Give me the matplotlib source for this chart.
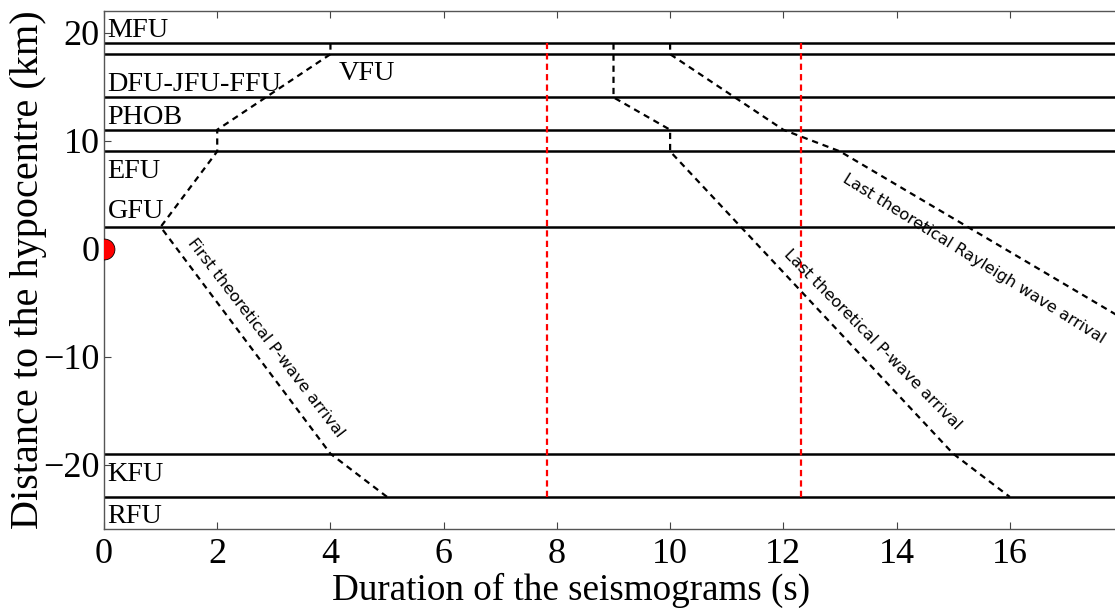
import matplotlib
matplotlib.use("Agg")
import matplotlib.pyplot as plt

# Layer boundaries (km relative to the hypocentre)
boundaries = [19, 18, 14, 11, 9, 2, -19, -23]

# Layer names and where their labels sit (x in s, baseline y in km)
layer_names = ["MFU", "DFU-JFU-FFU", "VFU", "PHOB", "EFU", "GFU", "KFU", "RFU"]
layer_x = [0.06, 0.06, 4.15, 0.06, 0.06, 0.06, 0.06, 0.06]
layer_y = [19.55, 14.6, 15.6, 11.55, 6.5, 2.8, -21.5, -25.4]

# Theoretical arrival curves: time (s) vs distance (km)
first_p_t = [4, 4, 2, 2, 1, 4, 5]
first_p_d = [19, 18, 11, 9, 2, -19, -23]
last_p_t = [9, 9, 10, 10, 15, 16]
last_p_d = [19, 14, 11, 9, -19, -23]
rayleigh_t = [10, 10, 12, 13, 18]
rayleigh_d = [19, 18, 11, 9, -6.5]

# Seismogram time markers (s)
red_times = [7.83, 12.31]

curve_labels = ["First theoretical P-wave arrival",
                "Last theoretical P-wave arrival",
                "Last theoretical Rayleigh wave arrival"]
curve_label_x = [2.86, 13.57, 15.36]
curve_label_y = [-8.23, -8.42, -0.95]
curve_label_rot = [-52.4, -45.5, -32.0]

xticks = [0, 2, 4, 6, 8, 10, 12, 14, 16]
yticks = [-20, -10, 0, 10, 20]

plt.rcParams["lines.scale_dashes"] = False
serif = ["Liberation Serif", "DejaVu Serif"]

W, H = 1115, 615
fig = plt.figure(figsize=(W / 100, H / 100), dpi=100)
left, right, top, bottom = 104, 1123, 11, 529.3
ax = fig.add_axes([left / W, (H - bottom) / H, (right - left) / W, (bottom - top) / H])
ax.set_xlim(0, 18)
ax.set_ylim(-26, 22)

for b in boundaries:
    ax.axhline(b, color="black", lw=1.8, zorder=2)

dash = (0, (4.5, 3.5))
for t_, d_ in [(first_p_t, first_p_d), (last_p_t, last_p_d), (rayleigh_t, rayleigh_d)]:
    ax.plot(t_, d_, color="black", lw=1.6, linestyle=dash, zorder=3)

for rt in red_times:
    ax.plot([rt, rt], [boundaries[-1], boundaries[0]], color="red", lw=1.6,
            linestyle=(0, (4.5, 3.0)), zorder=3)

ax.plot([0], [0], "o", color="red", markersize=15, markeredgecolor="black",
        markeredgewidth=0.6, zorder=4)

for name, x, y in zip(layer_names, layer_x, layer_y):
    ax.text(x, y, name, fontsize=20.3, family=serif, ha="left", va="baseline")

for s, x, y, r in zip(curve_labels, curve_label_x, curve_label_y, curve_label_rot):
    ax.text(x, y, s, fontsize=11.7, family="DejaVu Sans", rotation=r,
            rotation_mode="anchor", ha="center", va="center")

ax.set_xticks(xticks)
ax.set_yticks(yticks)
ax.tick_params(direction="in", top=True, right=True, length=5, width=0.8,
               labelsize=26, colors="#444444", labelcolor="black")
ax.tick_params(axis="x", pad=6)
ax.tick_params(axis="y", pad=3)
for lab in ax.get_xticklabels() + ax.get_yticklabels():
    lab.set_family(serif)
for sp in ax.spines.values():
    sp.set_color("#555555")
    sp.set_linewidth(1.0)

ax.set_xlabel("Duration of the seismograms (s)", fontsize=26.7, family=serif)
ax.set_ylabel("Distance to the hypocentre (km)", fontsize=29, family=serif)
ax.xaxis.set_label_coords(0.458, -0.083)
ax.yaxis.set_label_coords(-0.056, 0.5)

fig.savefig("out.png", dpi=100)
